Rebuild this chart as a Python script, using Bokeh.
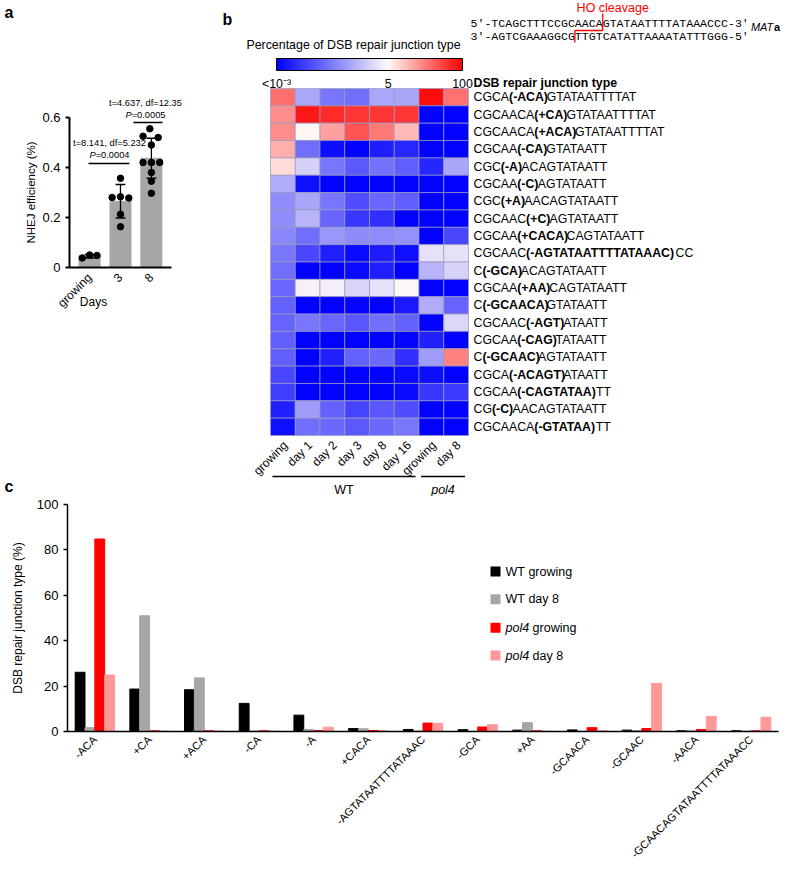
import math
from bokeh.plotting import figure
from bokeh.models import (Range1d, FactorRange, FixedTicker, Label, ColumnDataSource,
                          LogColorMapper, LinearColorMapper, ColorBar)
from bokeh.transform import dodge
from bokeh.layouts import column, row
from bokeh.core.properties import value
from bokeh.embed import file_html
from bokeh.resources import INLINE

FONT = "Liberation Sans"
MONO = "Liberation Mono"

# ---------------- Panel a data ----------------
a_groups = ["growing", "3", "8"]
a_means = [0.045, 0.265, 0.437]
a_sd = [0.007, 0.067, 0.080]
a_points = [
    [0.038, 0.050, 0.048],
    [0.357, 0.280, 0.283, 0.278, 0.213, 0.163],
    [0.555, 0.525, 0.520, 0.490, 0.420, 0.420, 0.420, 0.380, 0.345, 0.297],
]
a_tests = ["t=8.141, df=5.232", "t=4.637, df=12.35"]
a_pvals = ["=0.0004", "=0.0005"]
a_comp_y = [0.416, 0.58]
a_comp_x0 = [0.965, 2.42]
a_comp_x1 = [2.29, 3.36]

# ---------------- Panel b data ----------------
hm_columns = ["growing", "day 1", "day 2", "day 3", "day 8", "day 16", "growing", "day 8"]
hm_groups = ["WT", "WT", "WT", "WT", "WT", "WT", "pol4", "pol4"]
hm_prefix = ["CGCA", "CGCAACA", "CGCAACA", "CGCAA", "CGC", "CGCAA", "CGC", "CGCAAC", "CGCAA",
             "CGCAAC", "C", "CGCAA", "C", "CGCAAC", "CGCAA", "C", "CGCA", "CGCAA", "CG", "CGCAACA"]
hm_change = ["(-ACA)", "(+CA)", "(+ACA)", "(-CA)", "(-A)", "(-C)", "(+A)", "(+C)", "(+CACA)",
             "(-AGTATAATTTTATAAAC)", "(-GCA)", "(+AA)", "(-GCAACA)", "(-AGT)", "(-CAG)",
             "(-GCAAC)", "(-ACAGT)", "(-CAGTATAA)", "(-C)", "(-GTATAA)"]
hm_suffix = ["GTATAATTTTAT", "GTATAATTTTAT", "GTATAATTTTAT", "GTATAATT", "ACAGTATAATT",
             "AGTATAATT", "AACAGTATAATT", "AGTATAATT", "CAGTATAATT", "CC", "ACAGTATAATT",
             "CAGTATAATT", "GTATAATT", "ATAATT", "TATAATT", "AGTATAATT", "ATAATT", "TT",
             "AACAGTATAATT", "TT"]
# percentage of each junction type (rows) per sample (columns); 0.001 = "<10^-3"
hm_values = [
    [26.0, 0.30, 0.055, 0.042, 0.30, 0.28, 85.0, 25.0],
    [18.6, 74.0, 60.0, 53.0, 51.0, 52.0, 0.001, 0.001],
    [18.3, 5.3, 15.0, 37.0, 23.5, 10.6, 0.001, 0.001],
    [12.4, 0.042, 0.0015, 0.001, 0.0028, 0.0036, 0.001, 0.001],
    [7.2, 1.17, 0.055, 0.021, 0.050, 0.025, 0.0036, 0.28],
    [0.36, 0.0017, 0.001, 0.001, 0.001, 0.001, 0.001, 0.001],
    [0.12, 0.28, 0.055, 0.014, 0.033, 0.025, 0.001, 0.001],
    [0.12, 0.46, 0.030, 0.0065, 0.005, 0.001, 0.001, 0.001],
    [0.10, 0.042, 0.17, 0.11, 0.12, 0.14, 0.001, 0.011],
    [0.055, 0.011, 0.0028, 0.0014, 0.0026, 0.0017, 2.1, 2.1],
    [0.042, 0.001, 0.001, 0.0014, 0.0028, 0.001, 0.46, 1.28],
    [0.033, 3.6, 3.3, 1.4, 2.1, 4.3, 0.001, 0.001],
    [0.028, 0.001, 0.001, 0.0012, 0.001, 0.0023, 0.36, 0.030],
    [0.030, 0.055, 0.033, 0.020, 0.046, 0.028, 0.001, 1.5],
    [0.025, 0.001, 0.001, 0.001, 0.001, 0.0012, 0.003, 0.001],
    [0.025, 0.001, 0.003, 0.028, 0.036, 0.005, 0.21, 21.0],
    [0.011, 0.001, 0.001, 0.001, 0.001, 0.0014, 0.0015, 0.001],
    [0.0084, 0.001, 0.001, 0.001, 0.001, 0.0014, 0.0065, 0.0071],
    [0.003, 0.21, 0.028, 0.010, 0.020, 0.014, 0.001, 0.001],
    [0.0017, 0.042, 0.036, 0.021, 0.036, 0.055, 0.001, 0.001],
]
cbar_ticks = [0.0, 0.6, 1.0]
cbar_labels = ["<10\u207b\u00b3", "5", "100"]
seq_top = "5\u2032-TCAGCTTTCCGCAACAGTATAATTTTATAAACCC-3\u2032"
seq_bottom = "3\u2032-AGTCGAAAGGCGTTGTCATATTAAAATATTTGGG-5\u2032"
cut_top, cut_bottom = 19, 15  # character index of the staggered cut

# ---------------- Panel c data ----------------
c_types = ["-ACA", "+CA", "+ACA", "-CA", "-A", "+CACA", "-AGTATAATTTTATAAAC", "-GCA", "+AA",
           "-GCAACA", "-GCAAC", "-AACA", "-GCAACAGTATAATTTTATAAACC"]
c_wt_growing = [26.1, 18.7, 18.4, 12.4, 7.2, 1.3, 0.9, 0.8, 0.6, 0.7, 0.6, 0.3, 0.3]
c_wt_day8 = [1.7, 51.0, 23.6, 0.2, 0.9, 1.2, 0.2, 0.1, 3.9, 0.1, 0.4, 0.3, 0.1]
c_pol4_growing = [84.8, 0.3, 0.3, 0.3, 0.4, 0.4, 3.7, 2.0, 0.3, 1.7, 1.3, 0.9, 0.3]
c_pol4_day8 = [24.9, 0.2, 0.2, 0.2, 1.9, 0.3, 3.6, 3.0, 0.1, 0.4, 21.2, 6.7, 6.3]
c_series = [("WT", "growing"), ("WT", "day 8"), ("pol4", "growing"), ("pol4", "day 8")]

# ---------------- styles ----------------
BAR_GRAY = "#A6A6A6"
C_COLORS = ["#000000", "#A6A6A6", "#FF0000", "#FF9999"]
C_OFFSETS = [-0.27, -0.09, 0.09, 0.27]
A_JITTER = [
    [-0.24, 0.0, 0.24],
    [0.0, -0.27, 0.0, 0.27, 0.0, 0.0],
    [-0.05, -0.27, 0.22, 0.0, -0.27, 0.0, 0.27, 0.0, 0.0, 0.0],
]

BLUE, WHITE, RED = (0, 0, 255), (255, 250, 247), (255, 0, 0)
P_MID = 0.6
LOG5 = math.log10(5)


def mix(c1, c2, t):
    t = min(max(t, 0.0), 1.0)
    return "#%02x%02x%02x" % tuple(int(round(a + (b - a) * t)) for a, b in zip(c1, c2))


def scale_color(p):
    if p < P_MID:
        return mix(BLUE, WHITE, p / P_MID)
    return mix(WHITE, RED, (p - P_MID) / (1 - P_MID))


NPAL = 256
heat_palette = []
for i in range(NPAL):
    L = -3 + 5 * (i + 0.5) / NPAL
    if L < LOG5:
        p = P_MID * (L + 3) / (LOG5 + 3)
    else:
        p = P_MID + (1 - P_MID) * (L - LOG5) / (2 - LOG5)
    heat_palette.append(scale_color(p))
bar_palette = [scale_color((i + 0.5) / NPAL) for i in range(NPAL)]

W_REG = {'A': 667, 'C': 722, 'G': 778, 'T': 611, '(': 333, ')': 333, '-': 333, '+': 584}
W_BOLD = {'A': 722, 'C': 722, 'G': 778, 'T': 611, '(': 333, ')': 333, '-': 333, '+': 584}
BOLD_FIX = 0.968


def text_w(s, table, fs):
    return sum(table.get(ch, 600) for ch in s) * fs / 1000.0


def style_axis(ax, lw, fs):
    ax.axis_line_color = "black"
    ax.axis_line_width = lw
    ax.major_tick_line_color = "black"
    ax.major_tick_line_width = lw
    ax.major_tick_in = 0
    ax.major_tick_out = 4
    ax.minor_tick_line_color = None
    ax.major_label_text_color = "black"
    ax.major_label_text_font = FONT
    ax.major_label_text_font_size = fs
    ax.axis_label_text_color = "black"
    ax.axis_label_text_font = FONT
    ax.axis_label_text_font_style = "normal"


TOTAL_W, TOTAL_H = 784, 867
H1 = 496            # height of the top row (panels a and b)
PA_W = 195

# ================= Panel a =================


def a_x(rx):
    return 0.35 + (rx - 69) / 30.9


def a_y(ry):
    return (267 - ry) / 250.0


pa = figure(width=PA_W, height=H1, x_range=Range1d(a_x(0), a_x(PA_W)),
            y_range=Range1d(a_y(H1), a_y(0)),
            min_border_left=0, min_border_right=0, min_border_top=0, min_border_bottom=0,
            toolbar_location=None, output_backend="svg")
pa.frame_align = False
pa.outline_line_color = None
pa.grid.visible = False
xa = [i + 1 for i in range(len(a_groups))]
pa.vbar(x=xa, top=a_means, width=0.68, color=BAR_GRAY)
lo = [m - s for m, s in zip(a_means, a_sd)]
hi = [m + s for m, s in zip(a_means, a_sd)]
pa.segment(x0=xa, y0=lo, x1=xa, y1=hi, line_color="black", line_width=1.3)
pa.segment(x0=[x - 0.16 for x in xa], y0=hi, x1=[x + 0.16 for x in xa], y1=hi,
           line_color="black", line_width=1.3)
pa.segment(x0=[x - 0.16 for x in xa], y0=lo, x1=[x + 0.16 for x in xa], y1=lo,
           line_color="black", line_width=1.3)
ptx, pty = [], []
for gi, (pts, jit) in enumerate(zip(a_points, A_JITTER)):
    for v, j in zip(pts, jit):
        ptx.append(xa[gi] + j)
        pty.append(v)
pa.scatter(ptx, pty, size=6.5, color="black")
pa.segment(x0=a_comp_x0, y0=a_comp_y, x1=a_comp_x1, y1=a_comp_y, line_color="black", line_width=1.5)

pa.yaxis.ticker = FixedTicker(ticks=[0, 0.2, 0.4, 0.6])
pa.yaxis.major_label_overrides = {0: "0", 0.2: "0.2", 0.4: "0.4", 0.6: "0.6"}
pa.yaxis.bounds = (0, 0.6)
pa.yaxis.fixed_location = 0.35
pa.xaxis.ticker = FixedTicker(ticks=xa)
pa.xaxis.major_label_overrides = {x: g for x, g in zip(xa, a_groups)}
pa.xaxis.major_label_orientation = math.pi / 4
pa.xaxis.bounds = (0.35, 3.65)
pa.xaxis.fixed_location = 0
style_axis(pa.yaxis[0], 2, "13px")
style_axis(pa.xaxis[0], 2, "12px")
pa.xaxis.major_tick_line_color = None
pa.xaxis.major_label_standoff = 4

pa.add_layout(Label(x=a_x(30), y=a_y(192), angle=math.pi / 2, text="NHEJ efficiency (%)",
                    text_align="center", text_baseline="middle", text_font=FONT,
                    text_font_size="11.5px", text_color="black"))
tfs = 9.3
for txt, pv, cx, ty, py in zip(a_tests, a_pvals, [109, 145], [142, 102], [154, 114]):
    pa.add_layout(Label(x=a_x(cx), y=a_y(ty), text=txt, text_align="center", text_baseline="middle",
                        text_font=FONT, text_font_size="%.1fpx" % tfs, text_color="black"))
    wP = 0.667 * tfs
    wrest = (0.584 + 0.556 * 5 + 0.278) * tfs
    start = cx - (wP + wrest) / 2
    pa.add_layout(Label(x=a_x(start), y=a_y(py), text="P", text_align="left", text_baseline="middle",
                        text_font=FONT, text_font_style="italic", text_font_size="%.1fpx" % tfs,
                        text_color="black"))
    pa.add_layout(Label(x=a_x(start), y=a_y(py), x_offset=wP, text=pv, text_align="left",
                        text_baseline="middle", text_font=FONT, text_font_size="%.1fpx" % tfs,
                        text_color="black"))
pa.add_layout(Label(x=a_x(93), y=a_y(301), text="Days", text_align="center", text_baseline="middle",
                    text_font=FONT, text_font_size="12px", text_color="black"))
pa.add_layout(Label(x=a_x(4), y=a_y(12), text="a", text_align="left", text_baseline="middle",
                    text_font=FONT, text_font_style="bold", text_font_size="16px", text_color="black"))
pa.add_layout(Label(x=a_x(4), y=a_y(486), text="c", text_align="left", text_baseline="middle",
                    text_font=FONT, text_font_style="bold", text_font_size="16px", text_color="black"))

# ================= Panel b =================
PX0, CW, PY0, RH = 270.0, 24.75, 435.0, 17.35
PB_X = PA_W
PB_W = TOTAL_W - PA_W


def bx(rx):
    return (rx - PX0) / CW


def by(ry):
    return (PY0 - ry) / RH


pb = figure(width=PB_W, height=H1, x_range=Range1d(bx(PB_X), bx(TOTAL_W)),
            y_range=Range1d(by(H1), by(0)), x_axis_location=None, y_axis_location=None,
            min_border_left=0, min_border_right=0, min_border_top=0, min_border_bottom=0,
            toolbar_location=None, output_backend="svg")
pb.frame_align = False
pb.outline_line_color = None
pb.grid.visible = False

nrows = len(hm_values)
hx, hy, hv = [], [], []
for r, rv in enumerate(hm_values):
    for c, v in enumerate(rv):
        hx.append(c + 0.5)
        hy.append(nrows - r - 0.5)
        hv.append(v)
heat_src = ColumnDataSource(dict(x=hx, y=hy, pct=hv))
heat_mapper = LogColorMapper(palette=heat_palette, low=1e-3, high=100)
pb.rect('x', 'y', width=1, height=1, source=heat_src,
        fill_color={'field': 'pct', 'transform': heat_mapper},
        line_color="#9a9ac0", line_width=0.7)

# row labels (regular / bold / regular)
RFS = 12.3
lx0 = bx(473)
x1s, x2s, rys = [], [], []
for r in range(nrows):
    w1 = text_w(hm_prefix[r], W_REG, RFS) / CW
    w2 = BOLD_FIX * text_w(hm_change[r], W_BOLD, RFS) / CW
    x1s.append(lx0 + w1)
    x2s.append(lx0 + w1 + w2)
    rys.append(nrows - r - 0.5)
common = dict(text_baseline="middle", text_align="left", text_font=value(FONT),
              text_font_size="%.1fpx" % RFS, text_color="black")
pb.text(x=[lx0] * nrows, y=rys, text=hm_prefix, **common)
pb.text(x=x1s, y=rys, text=hm_change, text_font_style="bold", **common)
pb.text(x=x2s, y=rys, text=hm_suffix, **common)
pb.text(x=[lx0], y=[by(82)], text=["DSB repair junction type"], text_font_style="bold", **common)

# column labels
ncol = len(hm_columns)
pb.text(x=[c + 0.6 for c in range(ncol)], y=[-0.45] * ncol, text=hm_columns, angle=math.pi / 4,
        text_align="right", text_baseline="middle", text_font=value(FONT), text_font_size="12px",
        text_color="black")
# group bars (WT / pol4)
grp_names = []
for g in hm_groups:
    if g not in grp_names:
        grp_names.append(g)
for g in grp_names:
    idx = [i for i, gg in enumerate(hm_groups) if gg == g]
    x0, x1 = idx[0] + 0.08, idx[-1] + 1 - 0.14
    pb.line(x=[x0, x1], y=[by(476), by(476)], line_color="black", line_width=1.5)
    pb.text(x=[(x0 + x1) / 2], y=[by(489)], text=[g], text_align="center", text_baseline="middle",
            text_font=value(FONT), text_font_size="12.5px", text_color="black",
            text_font_style="italic" if g == "pol4" else "normal")

# sequences
SFS = 11.6
CHW = 0.6 * SFS
sx0 = 470.0
pb.text(x=[bx(sx0), bx(sx0)], y=[by(23), by(36)], text=[seq_top, seq_bottom], text_align="left",
        text_baseline="middle", text_font=value(MONO), text_font_size="%.1fpx" % SFS, text_color="black")
xt = sx0 + cut_top * CHW
xb = sx0 + cut_bottom * CHW
pb.line(x=[bx(xt), bx(xt), bx(xb), bx(xb)], y=[by(13), by(30), by(30), by(42)],
        line_color="#FF0000", line_width=1.3)
pb.text(x=[bx(xt + 10)], y=[by(7)], text=["HO cleavage"], text_align="center", text_baseline="middle",
        text_font=value(FONT), text_font_size="12.5px", text_color="#FF0000")
mx = sx0 + len(seq_top) * CHW + 2
MFS = 11.0
pb.text(x=[bx(mx)], y=[by(26)], text=["MAT"], text_align="left", text_baseline="middle",
        text_font=value(FONT), text_font_size="%.1fpx" % MFS, text_font_style="italic",
        text_color="black")
pb.text(x=[bx(mx)], y=[by(26)], x_offset=2.111 * MFS, text=["a"], text_align="left",
        text_baseline="middle", text_font=value(FONT), text_font_size="%.1fpx" % MFS,
        text_font_style="bold", text_color="black")
pb.text(x=[bx(222)], y=[by(19)], text=["b"], text_align="left", text_baseline="middle",
        text_font=value(FONT), text_font_size="16px", text_font_style="bold", text_color="black")
pb.text(x=[bx(353)], y=[by(44)], text=["Percentage of DSB repair junction type"], text_align="center",
        text_baseline="middle", text_font=value(FONT), text_font_size="12.4px", text_color="black")

bar_mapper = LinearColorMapper(palette=bar_palette, low=0, high=1)
cb = ColorBar(color_mapper=bar_mapper, orientation="horizontal", location=(276 - PB_X, H1 - 93),
              width=186, height=12, padding=0, margin=0,
              ticker=FixedTicker(ticks=cbar_ticks),
              major_label_overrides={t: l for t, l in zip(cbar_ticks, cbar_labels)},
              major_tick_line_color=None, minor_tick_line_color=None,
              bar_line_color="black", bar_line_width=1, label_standoff=6,
              major_label_text_font=FONT, major_label_text_font_size="12.4px",
              major_label_text_color="black", background_fill_alpha=0, border_line_color=None)
pb.add_layout(cb)

# ================= Panel c =================
PC_H = TOTAL_H - H1
C_LEFT, C_RIGHT, C_TOP, C_BOT = 67, 778, 504, 734


def c_x(rx):
    return (rx - C_LEFT) / ((C_RIGHT - C_LEFT) / len(c_types))


def c_y(ry):
    return (C_BOT - ry) / ((C_BOT - C_TOP) / 100.0)


pc = figure(width=TOTAL_W, height=PC_H, x_range=FactorRange(factors=c_types), y_range=Range1d(0, 100),
            min_border_left=C_LEFT, min_border_right=TOTAL_W - C_RIGHT, min_border_top=C_TOP - H1,
            min_border_bottom=TOTAL_H - C_BOT, toolbar_location=None, output_backend="svg")
pc.frame_align = False
pc.outline_line_color = None
pc.grid.visible = False
c_src = ColumnDataSource(dict(cat=c_types, s0=c_wt_growing, s1=c_wt_day8, s2=c_pol4_growing, s3=c_pol4_day8))
for k, (col, off) in enumerate(zip(C_COLORS, C_OFFSETS)):
    pc.vbar(x=dodge('cat', off, range=pc.x_range), top="s%d" % k, width=0.18, source=c_src, color=col)
pc.yaxis.ticker = FixedTicker(ticks=[0, 20, 40, 60, 80, 100])
pc.yaxis.axis_label = "DSB repair junction type (%)"
style_axis(pc.yaxis[0], 1.5, "13px")
style_axis(pc.xaxis[0], 1.5, "11px")
pc.xaxis.major_tick_line_color = None
pc.xaxis.major_label_orientation = math.pi / 4
pc.xaxis.major_label_standoff = 2
pc.yaxis.axis_label_text_font_size = "12px"
pc.yaxis.axis_label_standoff = 9

leg_y = [572, 600, 629, 657]
pc.scatter(x=[c_x(495)] * 4, y=[c_y(v) for v in leg_y], marker="square", size=10,
           color=C_COLORS, line_color=None)
LFS = 12.5
for (strain, cond), ly in zip(c_series, leg_y):
    italic = strain == "pol4"
    pc.add_layout(Label(x=c_x(505), y=c_y(ly), text=strain, text_align="left", text_baseline="middle",
                        text_font=FONT, text_font_size="%.1fpx" % LFS,
                        text_font_style="italic" if italic else "normal", text_color="black"))
    wstrain = (sum({'W': 944, 'T': 611, 'p': 556, 'o': 556, 'l': 222, '4': 556}[ch] for ch in strain)
               + 278) * LFS / 1000.0
    pc.add_layout(Label(x=c_x(505), y=c_y(ly), x_offset=wstrain, text=cond, text_align="left",
                        text_baseline="middle", text_font=FONT, text_font_size="%.1fpx" % LFS,
                        text_color="black"))

layout = column(row(pa, pb), pc)
open("out.html", "w").write(file_html(layout, INLINE))
